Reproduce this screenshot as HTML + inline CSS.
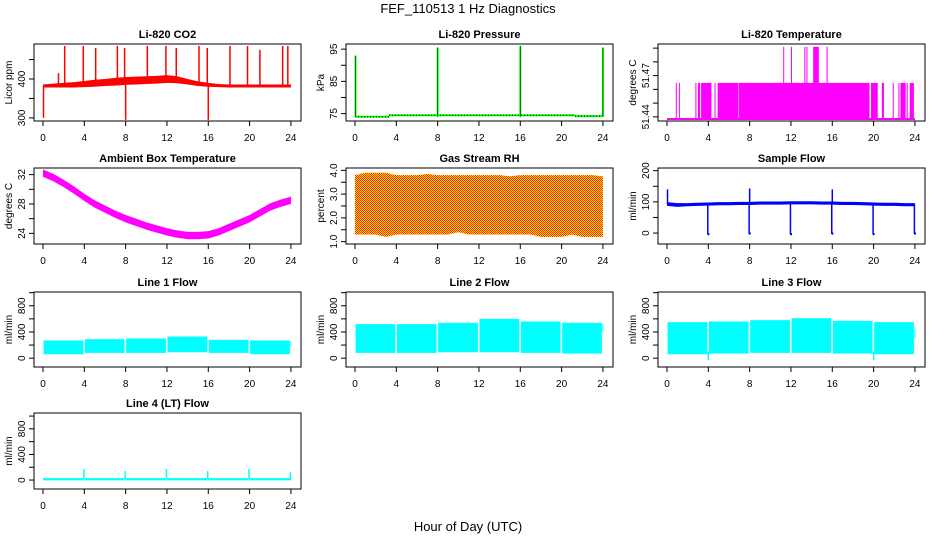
<!DOCTYPE html>
<html><head><meta charset="utf-8"><style>
html,body{margin:0;padding:0;background:#fff;}
svg{display:block;font-family:"Liberation Sans",Arial,sans-serif;}
</style></head><body>
<svg id="chart" width="936" height="540" viewBox="0 0 936 540" xmlns="http://www.w3.org/2000/svg">
<defs>
<pattern id="rhpat" width="2" height="2" patternUnits="userSpaceOnUse">
<rect width="2" height="2" fill="#ffe000"/><rect width="1" height="1" fill="#ff2000"/><rect x="1" y="1" width="1" height="1" fill="#ff2000"/>
</pattern>
</defs>
<text x="468" y="13" text-anchor="middle" font-size="13">FEF_110513  1 Hz Diagnostics</text>
<text x="468" y="531" text-anchor="middle" font-size="13">Hour of Day (UTC)</text>
</svg>
<script>
const hours=[0,1,2,3,4,5,6,7,8,9,10,11,12,13,14,15,16,17,18,19,20,21,22,23,24];
const xTicks=[0,4,8,12,16,20,24];
// CO2
const co2Base=[382,383,384,385,387,389,391,393,395,396,397,398,400,398,393,388,385,383,382,382,382,382,382,382,382];
const co2Spread=[4,5,6,7,8,9,9,10,10,10,10,10,10,9,7,6,5,4,4,4,4,4,4,4,4];
const co2SpikeT=[0.05,1.5,2.1,3.9,5.1,7.2,7.9,8.0,10.1,11.9,12.9,15.1,15.9,16.0,18.1,19.8,21.0,23.2,23.7];
const co2SpikeV=[300,415,485,485,480,485,480,295,485,485,480,485,480,295,485,485,475,485,485];
// Pressure
const presSegT=[0,3.3,21.3,24];
const presSegV=[74,74.5,74.2];
const presSpikeT=[0.05,8,16,24];
const presSpikeV=[93,95.5,96,95.5];
// Li-820 temperature
const tempLevels=[51.4385,51.4647,51.491];
const tempMidStart=[2.75,3.0,3.3,4.6,4.9,6.95,19.75,20.8,22.4,22.6,23.2,23.5];
const tempMidEnd=[2.85,3.2,4.3,4.7,6.9,19.6,20.4,21.0,22.5,23.1,23.3,23.9];
const tempMidLines=[0.9,1.2,21.9,22.8];
const tempTopStart=[11.25,12.0,13.3,13.5,14.15,15.45];
const tempTopEnd=[11.3,12.05,13.35,13.55,14.7,15.55];
// Ambient
const ambMid=[32.2,31.6,30.8,29.9,28.9,28.0,27.3,26.6,26.0,25.5,25.0,24.6,24.2,23.9,23.7,23.7,23.8,24.2,24.8,25.4,26.0,26.8,27.6,28.1,28.5];
const ambHalf=[0.5,0.5,0.5,0.5,0.5,0.5,0.5,0.5,0.5,0.5,0.5,0.5,0.5,0.5,0.5,0.5,0.5,0.5,0.5,0.5,0.5,0.5,0.5,0.5,0.5];
// RH
const rhHigh=[3.8,3.9,3.9,3.9,3.8,3.8,3.8,3.85,3.8,3.8,3.8,3.8,3.8,3.8,3.8,3.75,3.8,3.8,3.8,3.8,3.8,3.8,3.8,3.8,3.75];
const rhLow=[1.3,1.3,1.3,1.2,1.3,1.3,1.3,1.3,1.3,1.3,1.4,1.3,1.3,1.3,1.3,1.3,1.3,1.3,1.2,1.2,1.2,1.3,1.2,1.2,1.2];
// Sample flow
const sampBase=[93,90,91,92,93,94,94,95,95,96,96,96,97,97,97,96,96,95,95,94,93,92,92,91,91];
const sampHalf=[6,6,5,5,5,5,5,5,5,5,5,5,5,5,5,5,5,5,5,5,5,5,5,5,5];
const sampDipT=[4,8,12,16,20,24];
const sampDipV=[-5,-3,-5,-3,-5,-3];
const sampSpikeT=[0.05,8,16];
const sampSpikeV=[140,143,140];
// Line flows
const blockStart=[0,4,8,12,16,20,23.9];
const blockEnd=[3.9,7.9,11.9,15.9,19.9,23.9,24];
const line1Lo=[60,80,80,90,80,60,200];
const line1Hi=[270,290,300,330,280,270,250];
const line2Lo=[80,80,90,90,80,70,400];
const line2Hi=[520,520,540,600,560,540,520];
const line3Lo=[60,70,80,80,70,60,300];
const line3Hi=[550,560,580,610,570,550,450];
const line3DipT=[4,20];
const line3DipV=[-30,-30];
const line4Base=[10,10,10,10,10,10,10];
const line4SpikeT=[4,8,12,16,20,24];
const line4SpikeV=[170,140,170,140,170,130];

const svg=document.getElementById('chart');
const NS='http://www.w3.org/2000/svg';
const colX=[34,346,658];
const rowY=[[44,121],[168,244],[292,367],[413,489]];
function mk(tag,attrs,parent){const e=document.createElementNS(NS,tag);for(const k in attrs)e.setAttribute(k,attrs[k]);(parent||svg).appendChild(e);return e;}

function panel(cfg){
  const p={l:colX[cfg.col],r:colX[cfg.col]+267,t:rowY[cfg.row][0],b:rowY[cfg.row][1],lo:cfg.lo,hi:cfg.hi};
  p.x=t=>p.l+9+t*10.33;
  p.y=v=>p.b-(v-p.lo)/(p.hi-p.lo)*(p.b-p.t);
  const g=mk('g',{});
  
  
  p.g=g;
  p.data=mk('g',{'clip-path':'url(#clip-'+cfg.name+')'},g);
  const cp=mk('clipPath',{id:'clip-'+cfg.name},svg.querySelector('defs'));
  mk('rect',{x:p.l,y:p.t,width:p.r-p.l,height:p.b-p.t},cp);
  const title=mk('text',{x:(p.l+p.r)/2,y:p.t-6,'text-anchor':'middle','font-size':11,'font-weight':'bold'},g);
  title.textContent=cfg.title;
  
  
  const yl=mk('text',{x:0,y:0,transform:'translate('+(p.l-22)+','+((p.t+p.b)/2)+') rotate(-90)','text-anchor':'middle','font-size':10},g);
  yl.textContent=cfg.ylab;
  
  
  p.post=function(){
    const box=mk('rect',{x:p.l,y:p.t,width:p.r-p.l,height:p.b-p.t,fill:'none',stroke:'#000','stroke-width':1},g);
    
    
    xTicks.forEach(t=>{
      mk('line',{x1:p.x(t),x2:p.x(t),y1:p.b,y2:p.b+5,stroke:'#000'},g);
      const lb=mk('text',{x:p.x(t),y:p.b+20,'text-anchor':'middle','font-size':10},g);
      lb.textContent=t;
      
      
    });
    cfg.ticks.forEach(v=>{
      const yy=p.y(v);
      mk('line',{x1:p.l-5,x2:p.l,y1:yy,y2:yy,stroke:'#000'},g);
    });
    cfg.labels.forEach(v=>{
      const yy=p.y(+v);
      const lb=mk('text',{x:0,y:0,transform:'translate('+(p.l-9)+','+yy+') rotate(-90)','text-anchor':'middle','font-size':10},g);
      lb.textContent=v;
      
      
    });
  };
  return p;
}
function band(p,ts,lo,hi,fill,name){
  let d='M'+ts.map((t,i)=>p.x(t)+','+p.y(hi[i])).join('L');
  for(let i=ts.length-1;i>=0;i--)d+='L'+p.x(ts[i])+','+p.y(lo[i]);
  const e=mk('path',{d:d+'Z',fill:fill},p.data);
  
  
}
function vline(p,t,v0,v1,col,w,name){
  const e=mk('line',{x1:p.x(t),x2:p.x(t),y1:p.y(v0),y2:p.y(v1),stroke:col,'stroke-width':w},p.data);
  
  
}
function rect(p,t0,t1,v0,v1,fill,name){
  const x0=p.x(t0),x1=p.x(t1);
  const e=mk('rect',{x:x0,y:p.y(v1),width:Math.max(1,x1-x0),height:Math.max(1,p.y(v0)-p.y(v1)),fill:fill},p.data);
  
  
}

// 1 CO2
let p=panel({name:'co2',col:0,row:0,title:'Li-820 CO2',ylab:'Licor ppm',lo:292,hi:490,ticks:[300,350,400,450],labels:['300','400']});
band(p,hours,co2Base.map((b,i)=>b-co2Spread[i]),co2Base.map((b,i)=>b+co2Spread[i]),'#ff0000','co2-series');
co2SpikeT.forEach((t,i)=>{const h=Math.floor(t);vline(p,t,co2Base[h],co2SpikeV[i],'#ff0000',1.5,'co2-spike');});
p.post();

// 2 Pressure
p=panel({name:'pressure',col:1,row:0,title:'Li-820 Pressure',ylab:'kPa',lo:72.7,hi:96.6,ticks:[75,80,85,90,95],labels:['75','85','95']});
presSegV.forEach((v,i)=>{
  const e=mk('line',{x1:p.x(presSegT[i]),x2:p.x(presSegT[i+1]),y1:p.y(v),y2:p.y(v),stroke:'#00ff00','stroke-width':2},p.data);
  
  
  const d=mk('line',{x1:p.x(presSegT[i]),x2:p.x(presSegT[i+1]),y1:p.y(v),y2:p.y(v),stroke:'#000','stroke-width':1,'stroke-dasharray':'1,2'},p.data);
  
  
});
presSpikeT.forEach((t,i)=>{vline(p,t,74,presSpikeV[i],'#00ff00',2,'pressure-spike');vline(p,t,74,presSpikeV[i],'#000',0.5,'pressure-spike-dots');});
p.post();

// 3 Temperature
p=panel({name:'li820-temp',col:2,row:0,title:'Li-820 Temperature',ylab:'degrees C',lo:51.437,hi:51.493,ticks:[51.44,51.45,51.46,51.47,51.48,51.49],labels:['51.44','51.47']});
{const e=mk('line',{x1:p.x(0),x2:p.x(24),y1:p.y(tempLevels[0]),y2:p.y(tempLevels[0]),stroke:'#ff00ff','stroke-width':2},p.data);

}
tempMidStart.forEach((s,i)=>rect(p,s,tempMidEnd[i],tempLevels[0],tempLevels[1],'#ff00ff','li820-temp-block'));
tempMidLines.forEach(t=>vline(p,t,tempLevels[0],tempLevels[1],'#ff00ff',1,'li820-temp-line'));
tempTopStart.forEach((s,i)=>rect(p,s,tempTopEnd[i],tempLevels[0],tempLevels[2],'#ff00ff','li820-temp-top'));
p.post();

// 4 Ambient
p=panel({name:'ambient-temp',col:0,row:1,title:'Ambient Box Temperature',ylab:'degrees C',lo:22.55,hi:32.9,ticks:[24,26,28,30,32],labels:['24','28','32']});
band(p,hours,ambMid.map((m,i)=>m-ambHalf[i]),ambMid.map((m,i)=>m+ambHalf[i]),'#ff00ff','ambient-temp-series');
p.post();

// 5 RH
p=panel({name:'gas-rh',col:1,row:1,title:'Gas Stream RH',ylab:'percent',lo:0.9,hi:4.1,ticks:[1,1.5,2,2.5,3,3.5,4],labels:['1.0','2.0','3.0','4.0']});
band(p,hours,rhLow,rhHigh,'url(#rhpat)','gas-rh-series');
p.post();

// 6 Sample flow
p=panel({name:'sample-flow',col:2,row:1,title:'Sample Flow',ylab:'ml/min',lo:-35,hi:208.5,ticks:[0,50,100,150,200],labels:['0','100','200']});
band(p,hours,sampBase.map((b,i)=>b-sampHalf[i]),sampBase.map((b,i)=>b+sampHalf[i]),'#0000ff','sample-flow-series');
sampDipT.forEach((t,i)=>{vline(p,t-0.05,93,sampDipV[i],'#0000ff',1.5,'sample-flow-dip');rect(p,t-0.05,t+0.1,sampDipV[i]-2,sampDipV[i]+5,'#0000ff','sample-flow-dip-foot');});
sampSpikeT.forEach((t,i)=>vline(p,t,93,sampSpikeV[i],'#0000ff',1.5,'sample-flow-spike'));
p.post();

// 7-9 Line flows
function linePanel(name,col,row,title,lo,hi){
  const q=panel({name:name,col:col,row:row,title:title,ylab:'ml/min',lo:-135,hi:1010,ticks:[0,200,400,600,800,1000],labels:['0','400','800']});
  blockStart.forEach((s,i)=>rect(q,s+0.05,blockEnd[i],lo[i],hi[i],'#00ffff',name+'-block'));
  return q;
}
p=linePanel('line1-flow',0,2,'Line 1 Flow',line1Lo,line1Hi);p.post();
p=linePanel('line2-flow',1,2,'Line 2 Flow',line2Lo,line2Hi);p.post();
p=linePanel('line3-flow',2,2,'Line 3 Flow',line3Lo,line3Hi);
line3DipT.forEach((t,i)=>vline(p,t,100,line3DipV[i],'#00ffff',1.5,'line3-flow-dip'));
p.post();

// 10 Line 4
p=panel({name:'line4-flow',col:0,row:3,title:'Line 4 (LT) Flow',ylab:'ml/min',lo:-140,hi:1048,ticks:[0,200,400,600,800,1000],labels:['0','400','800']});
blockStart.forEach((s,i)=>rect(p,s,blockEnd[i],line4Base[i]-15,line4Base[i]+20,'#00ffff','line4-flow-base'));
line4SpikeT.forEach((t,i)=>vline(p,t-0.05,10,line4SpikeV[i],'#00ffff',1.5,'line4-flow-spike'));
p.post();
</script>
</body></html>
